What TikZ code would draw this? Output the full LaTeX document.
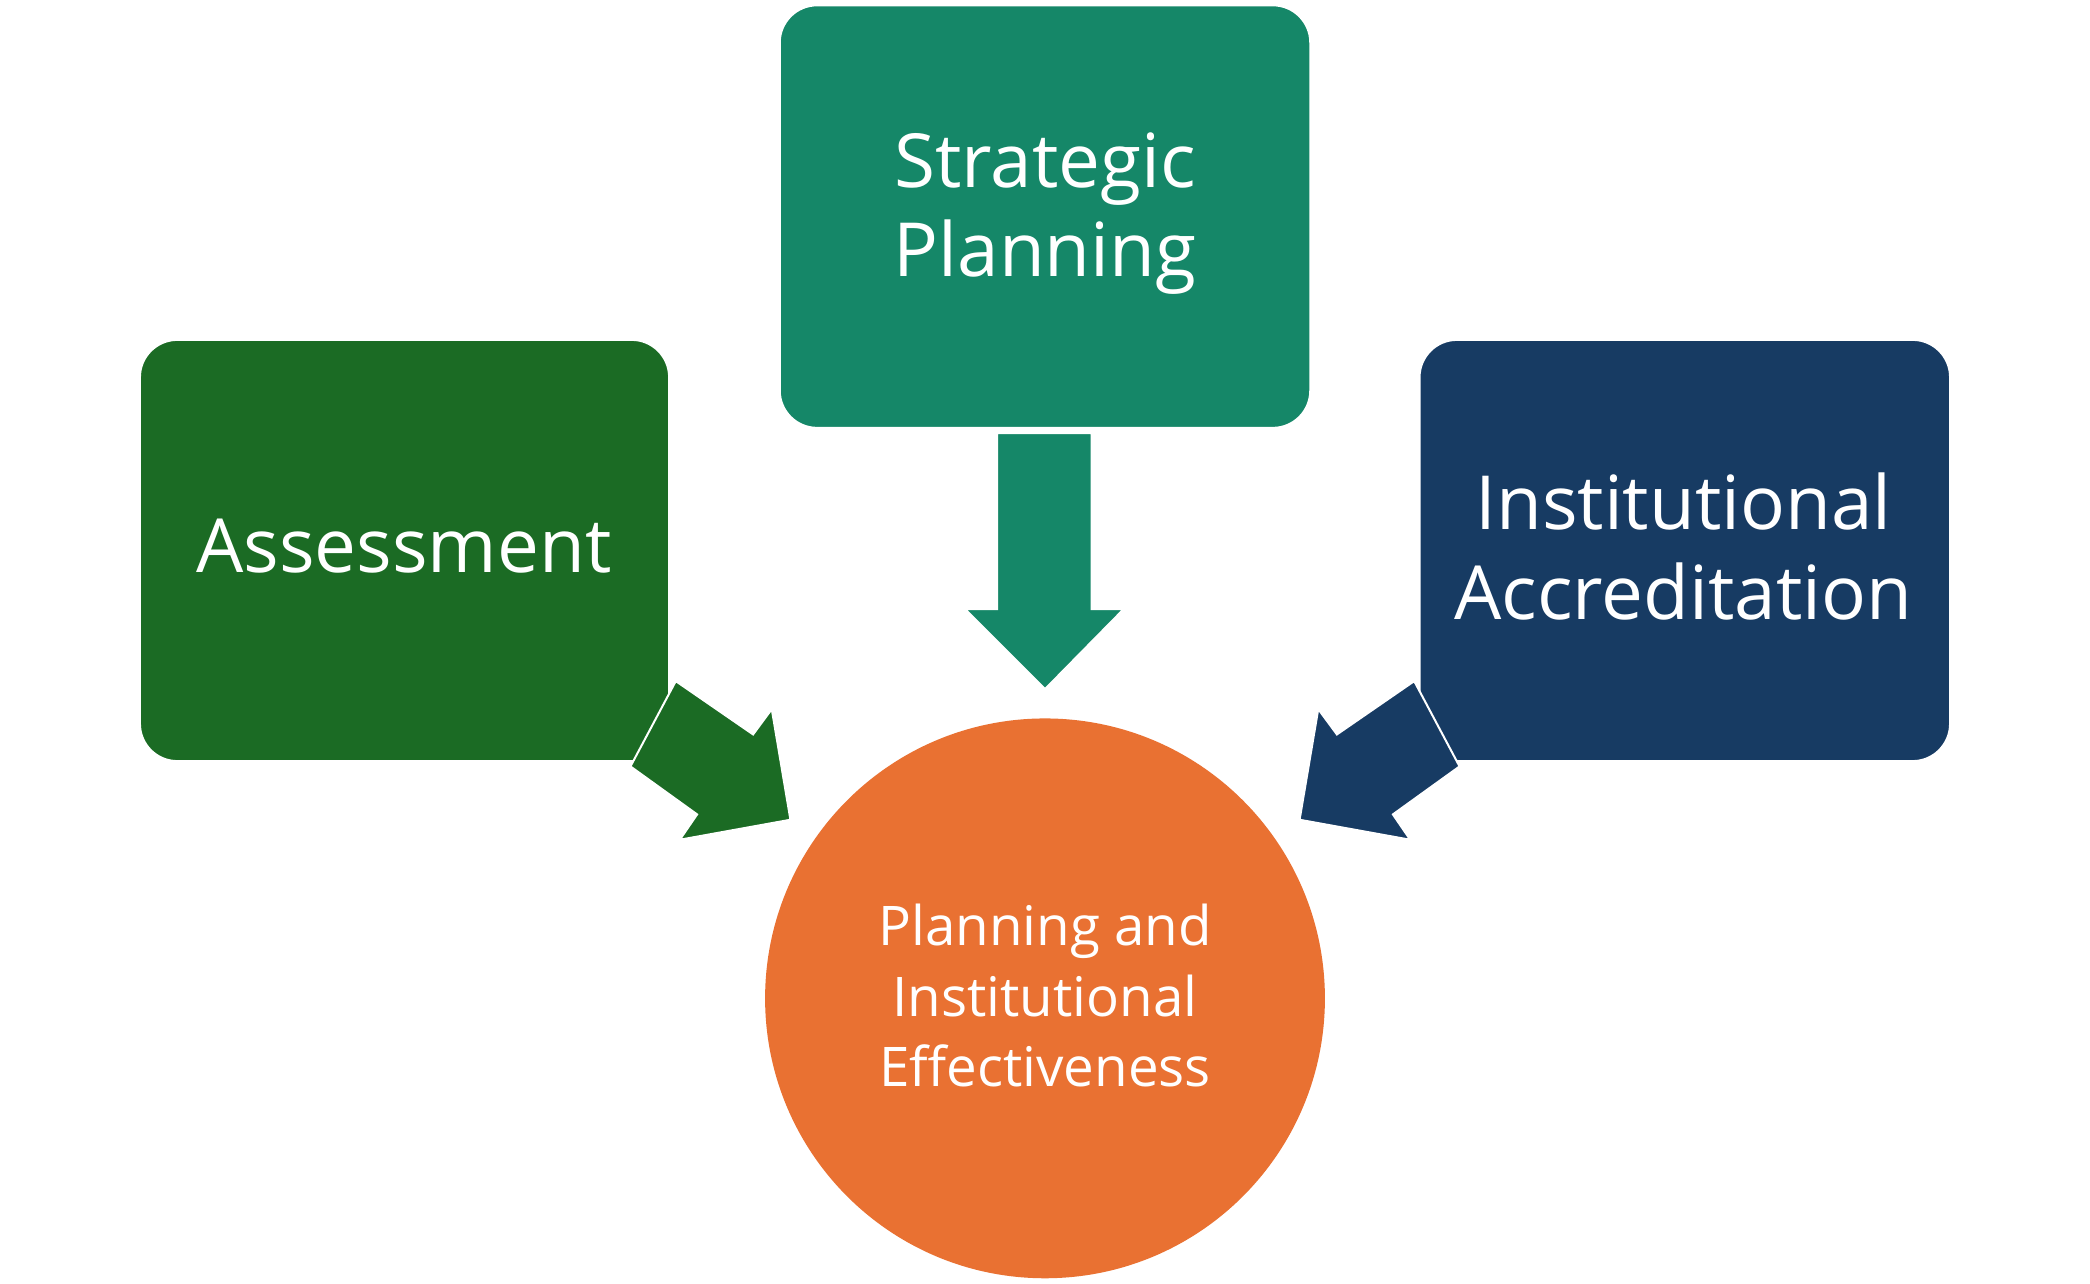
\documentclass[tikz,border=0pt]{standalone}
\usepackage{fontspec}
\setmainfont{Open Sans}
\definecolor{cTeal}{HTML}{158768}
\definecolor{cGreen}{HTML}{1B6B24}
\definecolor{cNavy}{HTML}{173B63}
\definecolor{cOrange}{HTML}{E97132}
\begin{document}
\begin{tikzpicture}[x=1pt,y=-1pt,
  box/.style={rounded corners=28pt,draw=white,line width=1.5pt},
  arr/.style={draw=white,line width=1.5pt,line join=miter},
  lbl/.style={text=white,align=center,font=\fontsize{56}{67}\selectfont},
  clbl/.style={text=white,align=center,font=\fontsize{41}{53}\selectfont}]
\useasboundingbox (0,0) rectangle (1568,963);
\fill[white] (0,0) rectangle (1568,963);
\draw[box,fill=cTeal] (585,4) rectangle (983,321);
\node[lbl] (sp) at (784,160) {Strategic\\Planning};
\draw[box,fill=cGreen] (105,255) rectangle (502,571);
\node[lbl] (as) at (303,410) {Assessment};
\draw[box,fill=cNavy] (1065,255) rectangle (1463,571);
\node[lbl] (ia) at (1263,410) {Institutional\\Accreditation};
\node[circle,fill=cOrange,minimum size=420pt,inner sep=0pt] (pe) at (784,749) {};
\node[clbl] at (784,747) {Planning and\\Institutional\\Effectiveness};
\draw[arr,fill=cTeal] (748,325) -- (819,325) -- (819,457) -- (843,457) -- (784,517) -- (724,457) -- (748,457) -- cycle;
\draw[arr,fill=cGreen] (507,511) -- (565,551) -- (579,532) -- (593,615) -- (510,630) -- (523,611) -- (473,575) -- cycle;
\draw[arr,fill=cNavy] (1061,511) -- (1003,551) -- (989,532) -- (975,615) -- (1058,630) -- (1045,611) -- (1095,575) -- cycle;
\end{tikzpicture}
\end{document}
